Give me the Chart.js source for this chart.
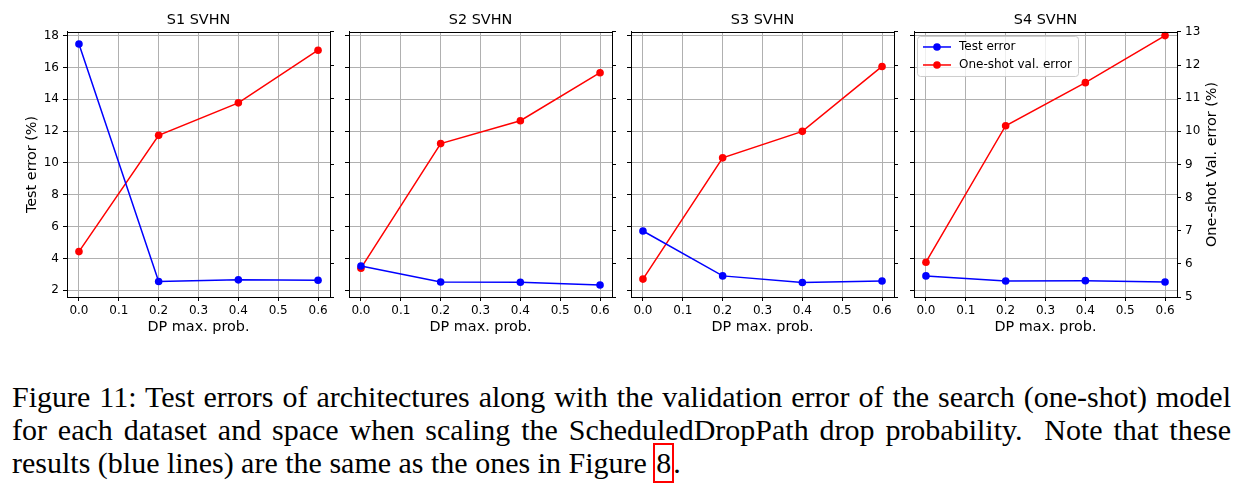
<!DOCTYPE html>
<html><head><meta charset="utf-8">
<script src="https://cdn.jsdelivr.net/npm/chart.js@4/dist/chart.umd.min.js"></script>
<style>
html,body{margin:0;padding:0;background:#fff;width:1258px;height:495px;overflow:hidden;position:relative}
canvas{position:absolute;top:0}
.cap{position:absolute;left:12px;width:1219px;font-family:"Liberation Serif","Times New Roman",serif;font-size:30px;line-height:33px;white-space:nowrap;color:#000}
.j{text-align:justify;text-align-last:justify}
.ref{border:2px solid #f00;padding:1px 1px 2px 1px;margin:0 -1px}
</style>
</head><body>
<canvas id="p0" width="390" height="340"></canvas>
<canvas id="p1" width="390" height="340"></canvas>
<canvas id="p2" width="390" height="340"></canvas>
<canvas id="p3" width="390" height="340"></canvas>
<div class="cap j" style="top:380px">Figure 11: Test errors of architectures along with the validation error of the search (one-shot) model</div>
<div class="cap j" style="top:413px">for each dataset and space when scaling the ScheduledDropPath drop probability.&nbsp; Note that these</div>
<div class="cap" style="top:446px">results (blue lines) are the same as the ones in Figure <span class="ref">8</span>.</div>
<script>
// ---- data ----
const dpProb = [0.0, 0.2, 0.4, 0.6];
const xTicks = [0.0, 0.1, 0.2, 0.3, 0.4, 0.5, 0.6];
const leftTicks = [2, 4, 6, 8, 10, 12, 14, 16, 18];
const rightTicks = [5, 6, 7, 8, 9, 10, 11, 12, 13];
const panelTitles = ['S1 SVHN', 'S2 SVHN', 'S3 SVHN', 'S4 SVHN'];
const testS1 = [17.47, 2.55, 2.65, 2.63];
const testS2 = [3.52, 2.52, 2.50, 2.33];
const testS3 = [5.72, 2.90, 2.48, 2.58];
const testS4 = [2.90, 2.58, 2.60, 2.52];
const oneShotS1 = [6.37, 9.88, 10.86, 12.45];
const oneShotS2 = [5.87, 9.63, 10.32, 11.77];
const oneShotS3 = [5.54, 9.20, 10.00, 11.96];
const oneShotS4 = [6.05, 10.17, 11.47, 12.89];
const seriesNames = ['Test error', 'One-shot val. error'];
const leftTitle = 'Test error (%)';
const rightTitle = 'One-shot Val. error (%)';
const xTitle = 'DP max. prob.';

const testAll = [testS1, testS2, testS3, testS4];
const oneAll = [oneShotS1, oneShotS2, oneShotS3, oneShotS4];

Chart.defaults.font.family = "'DejaVu Sans', sans-serif";
Chart.defaults.color = '#000';

const FRAME_LEFTS = [67, 349, 631, 914];
const LW = 67, RW = 60;
const FONT = "'DejaVu Sans', sans-serif";
const TICK = 12, LAB = 14.4;

const framePlugin = {
  id: 'frame',
  afterDatasetsDraw(chart) {
    const a = chart.chartArea, ctx = chart.ctx;
    ctx.save();
    ctx.strokeStyle = '#000'; ctx.lineWidth = 1;
    ctx.strokeRect(Math.round(a.left) + 0.5, Math.round(a.top) + 0.5, Math.round(a.right - a.left), Math.round(a.bottom - a.top));
    ctx.restore();
  }
};

function legendPlugin() {
  return {
    id: 'mplLegend',
    afterDraw(chart) {
      const a = chart.chartArea, ctx = chart.ctx;
      const bx = a.left + 3, by = a.top + 4, bw = 161, bh = 40;
      ctx.save();
      ctx.fillStyle = 'rgba(255,255,255,0.8)';
      ctx.strokeStyle = '#cccccc'; ctx.lineWidth = 1;
      ctx.beginPath();
      if (ctx.roundRect) ctx.roundRect(bx + 0.5, by + 0.5, bw, bh, 3); else ctx.rect(bx + 0.5, by + 0.5, bw, bh);
      ctx.fill(); ctx.stroke();
      const items = chart.data.datasets;
      items.forEach((ds, k) => {
        const cy = by + 11 + k * 18;
        ctx.strokeStyle = ds.borderColor; ctx.lineWidth = 1.5;
        ctx.beginPath(); ctx.moveTo(bx + 6, cy); ctx.lineTo(bx + 34, cy); ctx.stroke();
        ctx.fillStyle = ds.borderColor;
        ctx.beginPath(); ctx.arc(bx + 20, cy, 3.8, 0, Math.PI * 2); ctx.fill();
        ctx.fillStyle = '#000';
        ctx.font = TICK + 'px ' + FONT;
        ctx.textBaseline = 'middle'; ctx.textAlign = 'left';
        ctx.fillText(ds.label, bx + 42, cy);
      });
      ctx.restore();
    }
  };
}

function rightTitlePlugin() {
  return {
    id: 'rightTitle',
    afterDraw(chart) {
      const a = chart.chartArea, ctx = chart.ctx;
      ctx.save();
      ctx.translate(a.right + 35.5, (a.top + a.bottom) / 2);
      ctx.rotate(-Math.PI / 2);
      ctx.font = LAB + 'px ' + FONT;
      ctx.fillStyle = '#000';
      ctx.textAlign = 'center'; ctx.textBaseline = 'middle';
      ctx.fillText(rightTitle, 0, 0);
      ctx.restore();
    }
  };
}

function makePanel(i) {
  const cv = document.getElementById('p' + i);
  cv.style.left = (FRAME_LEFTS[i] - LW) + 'px';
  const showLeft = i === 0, showRight = i === 3;
  const pts = arr => dpProb.map((x, k) => ({ x: x, y: arr[k] }));
  const plugins = [framePlugin];
  if (showRight) { plugins.push(legendPlugin()); plugins.push(rightTitlePlugin()); }
  new Chart(cv, {
    type: 'line',
    data: {
      datasets: [
        { label: seriesNames[0], data: pts(testAll[i]), yAxisID: 'y', borderColor: '#0000ff', backgroundColor: '#0000ff',
          borderWidth: 1.5, pointRadius: 3.8, pointBorderWidth: 0, pointBackgroundColor: '#0000ff', tension: 0, clip: false },
        { label: seriesNames[1], data: pts(oneAll[i]), yAxisID: 'y2', borderColor: '#ff0000', backgroundColor: '#ff0000',
          borderWidth: 1.5, pointRadius: 3.8, pointBorderWidth: 0, pointBackgroundColor: '#ff0000', tension: 0, clip: false }
      ]
    },
    options: {
      responsive: false, animation: false, devicePixelRatio: 1,
      layout: { padding: 0 },
      plugins: {
        legend: { display: false }, tooltip: { enabled: false },
        title: { display: true, text: panelTitles[i], fullSize: false, color: '#000',
          font: { size: LAB, weight: 'normal', family: FONT, lineHeight: 1.2 }, padding: { top: 11.4, bottom: 3.3 } }
      },
      scales: {
        x: {
          type: 'linear', position: 'bottom', min: -0.03, max: 0.63,
          afterBuildTicks: s => { s.ticks = xTicks.map(v => ({ value: v })); },
          afterFit: s => { s.height = 43; },
          ticks: { callback: v => Number(v).toFixed(1), font: { size: TICK, family: FONT }, padding: 3, maxRotation: 0, autoSkip: false },
          grid: { color: '#b0b0b0', lineWidth: 1, drawTicks: true, tickLength: 4, tickColor: '#000' },
          border: { display: true, color: '#000', width: 1 },
          title: { display: true, text: xTitle, font: { size: LAB, family: FONT, lineHeight: 1.2 }, padding: { top: 0, bottom: 3.9 } }
        },
        y: {
          type: 'linear', position: 'left', min: 1.573, max: 18.227,
          afterBuildTicks: s => { s.ticks = leftTicks.map(v => ({ value: v })); },
          afterFit: s => { s.width = LW; },
          ticks: { display: showLeft, callback: v => String(v), font: { size: TICK, family: FONT }, padding: 4 },
          grid: { color: '#b0b0b0', lineWidth: 1, drawTicks: true, tickLength: 4, tickColor: '#000' },
          border: { display: true, color: '#000', width: 1 },
          title: { display: showLeft, text: leftTitle, font: { size: LAB, family: FONT, lineHeight: 1.2 }, padding: { top: 23.4, bottom: 0 } }
        },
        y2: {
          type: 'linear', position: 'right', min: 5, max: 13,
          afterBuildTicks: s => { s.ticks = rightTicks.map(v => ({ value: v })); },
          afterFit: s => { s.width = RW; },
          ticks: { display: showRight, callback: v => String(v), font: { size: TICK, family: FONT }, padding: 4 },
          grid: { drawOnChartArea: false, drawTicks: true, tickLength: 4, tickColor: '#000' },
          border: { display: true, color: '#000', width: 1 }
        }
      }
    },
    plugins: plugins
  });
}
for (let i = 0; i < 4; i++) makePanel(i);
</script>
</body></html>
